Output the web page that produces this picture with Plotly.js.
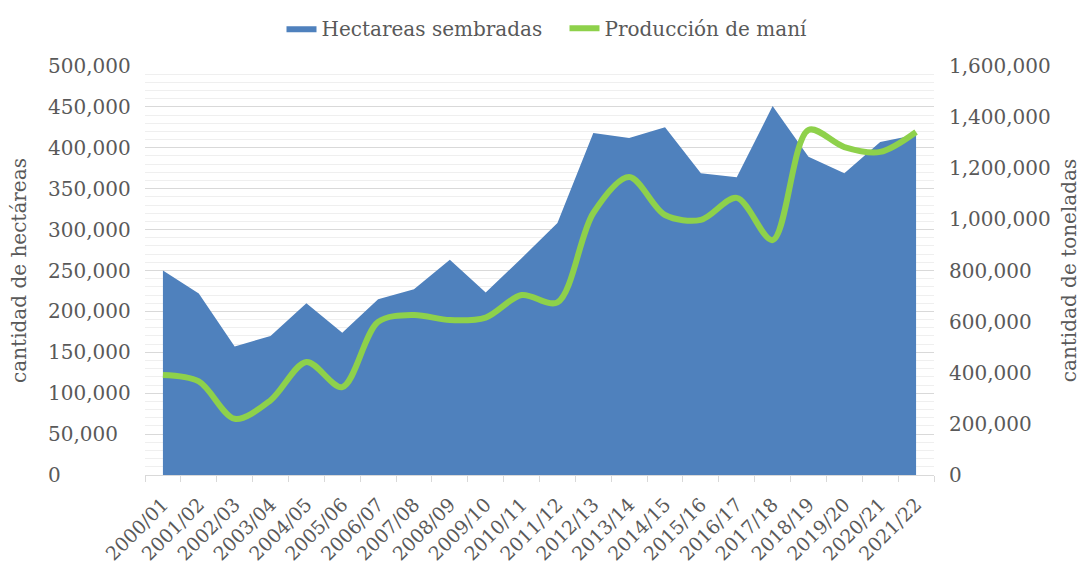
<!DOCTYPE html>
<html>
<head>
<meta charset="utf-8">
<script src="https://cdn.plot.ly/plotly-3.0.1.min.js"></script>
<style>html,body{margin:0;padding:0;background:#fff;}#chart{width:1090px;height:577px;}</style>
</head>
<body>
<div id="chart"></div>
<script>
const campaigns = ["2000/01","2001/02","2002/03","2003/04","2004/05","2005/06","2006/07","2007/08","2008/09","2009/10","2010/11","2011/12","2012/13","2013/14","2014/15","2015/16","2016/17","2017/18","2018/19","2019/20","2020/21","2021/22"];
const hectareasSembradas = [250000,222000,157000,170000,210000,174000,215000,227000,263000,223000,265000,308000,418000,412000,425000,369000,364000,451000,389000,369000,407000,416000];
const produccionMani = [391000,366000,220000,292000,442000,344000,599000,626000,606000,616000,704000,675000,1025000,1166000,1017000,998000,1084000,919000,1350000,1283000,1264000,1342000];
const leftTicks = [0,50000,100000,150000,200000,250000,300000,350000,400000,450000,500000];
const rightTicks = [0,200000,400000,600000,800000,1000000,1200000,1400000,1600000];
const fmt = v => v.toLocaleString('en-US');

const FAM = 'DejaVu Serif, serif';
const GREY = '#595959';
const font = {family: FAM, size: 20, color: GREY};

const traces = [
  {
    x: campaigns, y: hectareasSembradas, name: 'Hectareas sembradas',
    type: 'scatter', mode: 'lines', fill: 'tozeroy',
    fillcolor: '#4f81bd', line: {width: 0, color: '#4f81bd'},
    yaxis: 'y'
  },
  {
    x: campaigns, y: produccionMani, name: 'Producción de maní',
    type: 'scatter', mode: 'lines',
    line: {color: '#8ed14b', width: 6, shape: 'spline', smoothing: 0.9},
    yaxis: 'y2'
  }
];

// left-aligned tick labels for the left axis, placed through the axis scale
const leftLabels = leftTicks.map(v => ({
  xref: 'paper', x: -0.126, xanchor: 'left',
  yref: 'y', y: v, yanchor: 'middle',
  text: fmt(v), showarrow: false,
  font: {family: FAM, size: 20, color: GREY}
}));

const layout = {
  width: 1090, height: 577,
  margin: {l: 145, r: 156, t: 66, b: 102},
  paper_bgcolor: '#ffffff', plot_bgcolor: '#ffffff',
  font: font,
  showlegend: true,
  legend: {orientation: 'h', x: 0.173, xanchor: 'left', y: 0.985, yref: 'container', yanchor: 'top',
           font: {family: FAM, size: 20, color: GREY}, itemwidth: 30, traceorder: 'normal',
           entrywidth: 238},
  annotations: leftLabels,
  xaxis: {
    type: 'category', range: [-0.5, 21.5],
    tickangle: -45, tickson: 'boundaries', ticks: 'outside', ticklen: 6, tickcolor: '#d9d9d9',
    showline: true, linecolor: '#d9d9d9', showgrid: false, zeroline: false,
    ticklabelstandoff: 10,
    tickfont: {family: FAM, size: 19, color: GREY}
  },
  yaxis: {
    range: [0, 500000], tickvals: leftTicks, showticklabels: false,
    showgrid: true, gridcolor: '#d9d9d9', gridwidth: 1,
    minor: {dtick: 10000, showgrid: true, gridcolor: '#efefef', gridwidth: 1},
    zeroline: false, showline: false, ticks: '',
    title: {text: 'cantidad de hectáreas', font: {family: FAM, size: 20, color: GREY}, standoff: 112}
  },
  yaxis2: {
    range: [0, 1600000], tickvals: rightTicks, ticktext: rightTicks.map(fmt),
    overlaying: 'y', side: 'right', showgrid: false, zeroline: false, showline: false, ticks: '',
    ticklabelstandoff: 14,
    tickfont: {family: FAM, size: 20, color: GREY},
    title: {text: 'cantidad de toneladas', font: {family: FAM, size: 20, color: GREY}, standoff: 12}
  }
};

Plotly.newPlot('chart', traces, layout, {displayModeBar: false, staticPlot: true});
</script>
</body>
</html>
